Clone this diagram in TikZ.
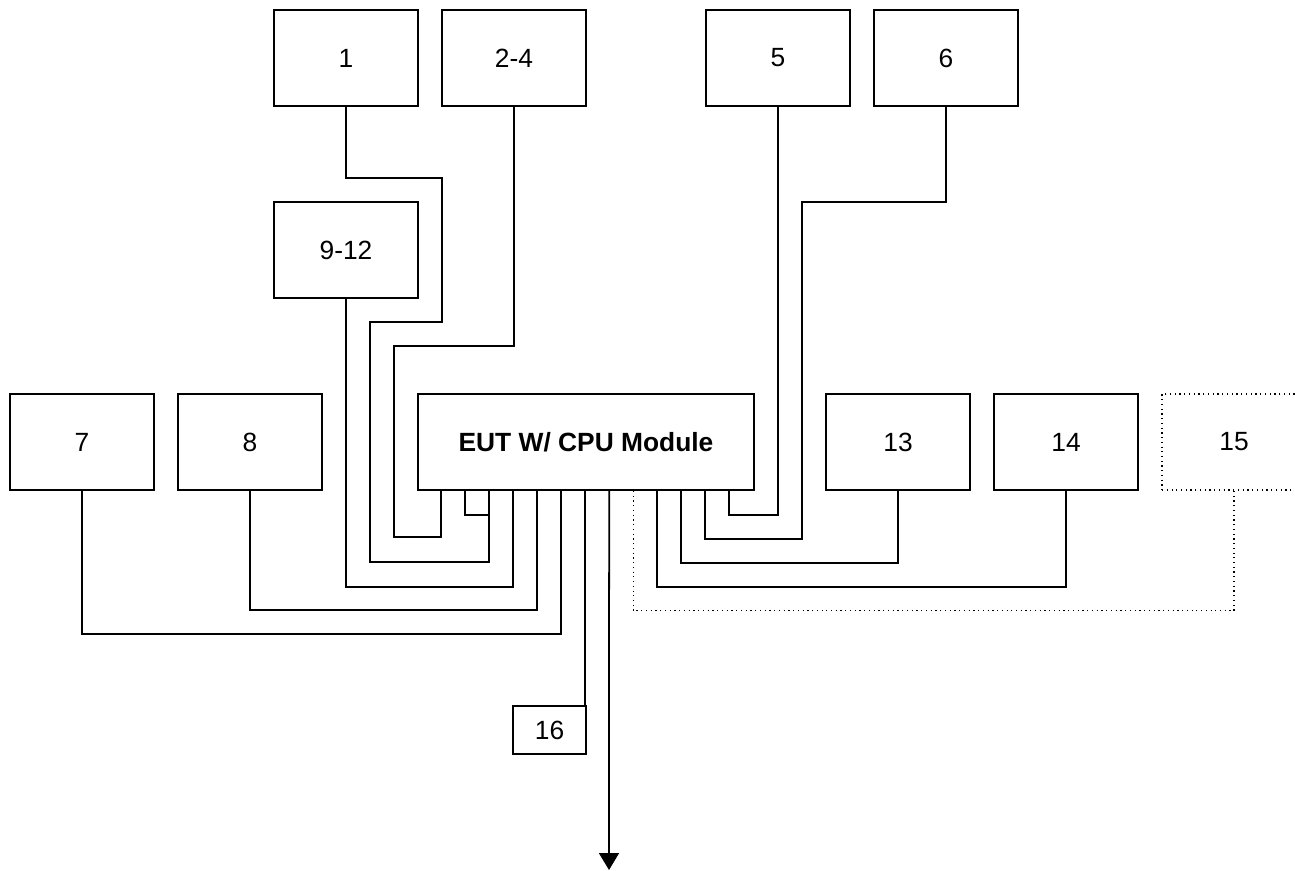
\documentclass[tikz,border=0pt]{standalone}
\usepackage{fontspec}
\setmainfont{Liberation Sans}
\usepackage{tikz}
\usetikzlibrary{
  arrows.meta,
  positioning,
  calc,
}

\begin{document}
\begin{tikzpicture}[
  x=0.02cm, y=-0.02cm,
  >={Triangle[width=0.4cm, length=0.34cm]},
  unit/.style={draw, line width=1pt, minimum width=2.88cm, minimum height=1.92cm,
    inner sep=0pt, font=\fontsize{15}{18}\selectfont},
  optunit/.style={unit, line width=0.7pt, dotted},
  wire/.style={line width=1pt},
  optwire/.style={line width=0.7pt, dotted},
]
  \useasboundingbox (0,0) rectangle (1295,870);

  % Top row
  \node[unit] (b1)  at (346,58)   {1};
  \node[unit] (b24) at (514,58)   {2-4};
  \node[unit] (b5)  at (778,58)   {5};
  \node[unit] (b6)  at (946,58)   {6};
  \node[unit] (b912) at (346,250) {9-12};

  % Middle row
  \node[unit] (b7)  at (82,442)   {7};
  \node[unit] (b8)  at (250,442)  {8};
  \node[unit, minimum width=6.72cm, font=\fontsize{15}{18}\selectfont\bfseries]
    (eut) at (586,442) {EUT W/ CPU Module};
  \node[unit] (b13) at (898,442)  {13};
  \node[unit] (b14) at (1066,442) {14};
  \node[optunit] (b15) at (1234,442) {15};

  % Bottom
  \node[unit, minimum width=1.46cm, minimum height=0.96cm] (b16) at (549.5,730) {16};

  % Ports on the EUT
  \foreach \i in {1,...,13}
    \coordinate (p\i) at ($(eut.south west)+(24*\i,0)$);
  \coordinate (out) at (609,870);

  % Cables, left side
  \draw[wire] (b24.south) |- (394,346) -- (394,537) -| (p1);
  \draw[wire] (p2) -- ++(0,24) -- ++(24,0);
  \draw[wire] (b1.south) |- (442,178) |- (370,322) -- (370,562) -| (p3);
  \draw[wire] (p4) -- ++(0,96) -| (b912.south);
  \draw[wire] (b8.south) -- (250,610) -| (p5);
  \draw[wire] (b7.south) -- (82,634) -| (p6);
  \draw[wire] (p7) -- (p7 |- b16.north);
  \draw[wire, ->] (p8) -- (out);

  % Cables, right side
  \draw[optwire] (p9) -- ++(0,120) -| (b15.south);
  \draw[wire] (p10) -- ++(0,96) -| (b14.south);
  \draw[wire] (p11) -- ++(0,72) -| (b13.south);
  \draw[wire] (p12) -- ++(0,48) -| (802,202) -| (b6.south);
  \draw[wire] (p13) -- ++(0,24) -| (b5.south);

\end{tikzpicture}
\end{document}
